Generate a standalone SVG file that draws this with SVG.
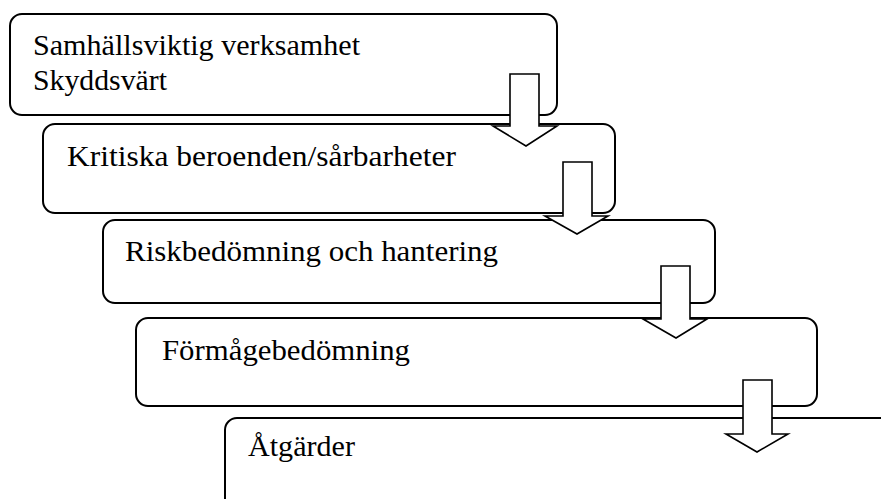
<svg xmlns="http://www.w3.org/2000/svg" width="881" height="499" viewBox="0 0 881 499">
<style>
.box{fill:#fff;stroke:#000;stroke-width:2}
.arr{fill:#fff;stroke:#000;stroke-width:1.6;stroke-linejoin:miter}
.t{font-family:"Liberation Serif","Times New Roman",serif;font-size:29px;fill:#000}
</style>
<rect width="881" height="499" fill="#fff"/>
<g id="n1"><rect class="box" x="10" y="14" width="547" height="101" rx="12"/>
<text class="t" x="33" y="55" textLength="327" lengthAdjust="spacingAndGlyphs">Samhällsviktig verksamhet</text>
<text class="t" x="33" y="90" textLength="134" lengthAdjust="spacingAndGlyphs">Skyddsvärt</text></g>
<g id="n2"><rect class="box" x="43" y="124" width="572" height="89" rx="12"/>
<text class="t" x="67" y="166" textLength="389" lengthAdjust="spacingAndGlyphs">Kritiska beroenden/sårbarheter</text></g>
<g id="n3"><rect class="box" x="103" y="220" width="612" height="83" rx="12"/>
<text class="t" x="125" y="261" textLength="373" lengthAdjust="spacingAndGlyphs">Riskbedömning och hantering</text></g>
<g id="n4"><rect class="box" x="136" y="318" width="681" height="88" rx="12"/>
<text class="t" x="162" y="360" textLength="248" lengthAdjust="spacingAndGlyphs">Förmågebedömning</text></g>
<g id="n5"><rect class="box" x="225" y="418" width="720" height="200" rx="12"/>
<text class="t" x="248" y="456" textLength="107" lengthAdjust="spacingAndGlyphs">Åtgärder</text></g>
<g id="connectors">
<polygon class="arr" points="510,74 539,74 539,126 557,126 526,146 493,126 510,126"/>
<polygon class="arr" points="563,162 592,162 592,216 608,216 577,234 545,216 563,216"/>
<polygon class="arr" points="661,266 690,266 690,319 707,319 676,338 643,319 661,319"/>
<polygon class="arr" points="743,380 772,380 772,434 788,434 757,452 726,434 743,434"/>
</g>
</svg>
